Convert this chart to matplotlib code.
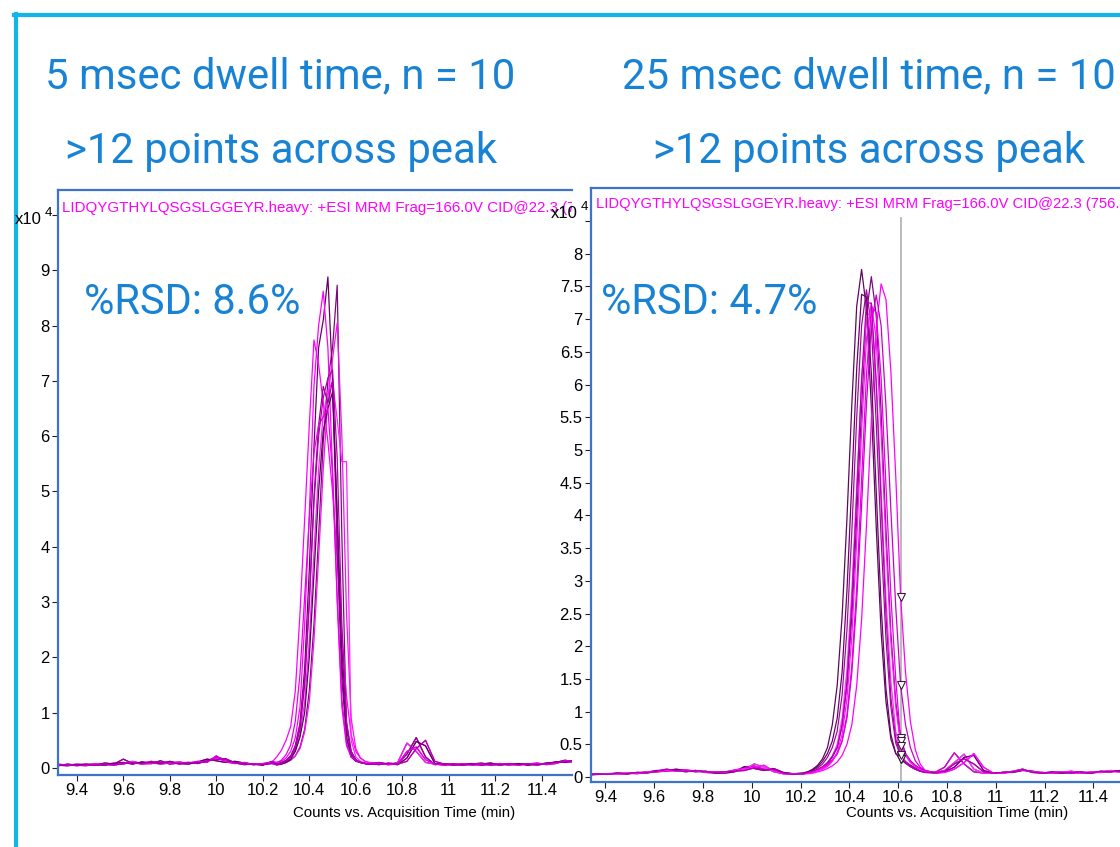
import matplotlib
matplotlib.use('Agg')
import matplotlib.pyplot as plt
from matplotlib.lines import Line2D

# ---- data: left panel (5 msec dwell), intensities in units of 1e4 counts ----
left_pre_t = [9.32, 9.36, 9.40, 9.44, 9.48, 9.52, 9.56, 9.60, 9.64, 9.68, 9.72, 9.76,
              9.80, 9.84, 9.88, 9.92, 9.96, 10.00, 10.04, 10.08, 10.12, 10.16, 10.20, 10.24]
left_peak_t = [10.26, 10.28, 10.30, 10.32, 10.34, 10.36, 10.38, 10.40, 10.42, 10.44, 10.46,
               10.48, 10.50, 10.52, 10.54, 10.56, 10.58, 10.60, 10.62, 10.64, 10.66]
left_post_t = [10.70, 10.74, 10.78, 10.82, 10.86, 10.90, 10.94, 10.98, 11.02, 11.06, 11.10,
               11.14, 11.18, 11.22, 11.26, 11.30, 11.34, 11.38, 11.42, 11.46, 11.50, 11.54]

left_base_pre = [
    [0.06, 0.05, 0.07, 0.05, 0.08, 0.06, 0.09, 0.07, 0.12, 0.08, 0.1, 0.07, 0.09, 0.11, 0.08, 0.1, 0.14, 0.18, 0.12, 0.09, 0.07, 0.08, 0.06, 0.09],
    [0.04, 0.07, 0.05, 0.06, 0.05, 0.09, 0.07, 0.16, 0.08, 0.1, 0.08, 0.13, 0.07, 0.09, 0.1, 0.09, 0.12, 0.2, 0.15, 0.1, 0.08, 0.06, 0.07, 0.1],
    [0.05, 0.04, 0.06, 0.07, 0.06, 0.05, 0.08, 0.1, 0.07, 0.11, 0.09, 0.08, 0.12, 0.08, 0.07, 0.11, 0.16, 0.13, 0.1, 0.12, 0.09, 0.07, 0.05, 0.12],
    [0.07, 0.05, 0.05, 0.04, 0.07, 0.06, 0.06, 0.09, 0.1, 0.07, 0.08, 0.1, 0.08, 0.1, 0.09, 0.12, 0.1, 0.22, 0.11, 0.08, 0.1, 0.06, 0.08, 0.11],
    [0.05, 0.06, 0.04, 0.06, 0.05, 0.07, 0.05, 0.08, 0.09, 0.08, 0.12, 0.09, 0.11, 0.07, 0.1, 0.08, 0.13, 0.15, 0.17, 0.09, 0.06, 0.07, 0.06, 0.08],
]
left_base_post = [
    [0.08, 0.06, 0.1, 0.45, 0.3, 0.1, 0.07, 0.06, 0.08, 0.05, 0.07, 0.09, 0.06, 0.08, 0.05, 0.07, 0.06, 0.08, 0.07, 0.09, 0.12, 0.1],
    [0.1, 0.07, 0.08, 0.25, 0.55, 0.2, 0.06, 0.08, 0.05, 0.07, 0.06, 0.07, 0.09, 0.05, 0.07, 0.06, 0.08, 0.06, 0.09, 0.1, 0.14, 0.11],
    [0.07, 0.08, 0.06, 0.18, 0.48, 0.4, 0.08, 0.06, 0.07, 0.06, 0.08, 0.05, 0.07, 0.07, 0.06, 0.08, 0.05, 0.07, 0.08, 0.11, 0.1, 0.13],
    [0.09, 0.06, 0.07, 0.3, 0.38, 0.15, 0.07, 0.05, 0.06, 0.08, 0.05, 0.06, 0.06, 0.08, 0.07, 0.05, 0.07, 0.09, 0.06, 0.08, 0.13, 0.12],
    [0.06, 0.09, 0.07, 0.12, 0.35, 0.5, 0.12, 0.07, 0.06, 0.05, 0.07, 0.08, 0.05, 0.06, 0.08, 0.06, 0.07, 0.05, 0.08, 0.1, 0.11, 0.14],
]
left_peaks = [
    [0.08, 0.1, 0.14, 0.22, 0.4, 0.8, 1.8, 3.6, 5.8, 7.6, 8.1, 8.88, 7.0, 4.5, 2.2, 0.8, 0.3, 0.15, 0.1, 0.08, 0.07],
    [0.06, 0.08, 0.1, 0.14, 0.22, 0.38, 0.7, 1.4, 2.6, 4.2, 5.9, 7.0, 7.6, 8.73, 4.2, 0.7, 0.25, 0.14, 0.1, 0.08, 0.07],
    [0.1, 0.12, 0.18, 0.3, 0.55, 1.1, 2.6, 4.6, 6.9, 8.0, 8.62, 7.6, 5.4, 3.0, 1.1, 0.4, 0.2, 0.14, 0.1, 0.09, 0.08],
    [0.2, 0.32, 0.5, 0.75, 1.4, 2.8, 4.5, 6.2, 7.74, 7.3, 6.6, 5.9, 5.0, 3.8, 2.4, 1.3, 0.6, 0.3, 0.18, 0.12, 0.1],
    [0.05, 0.07, 0.1, 0.15, 0.22, 0.35, 0.65, 1.2, 2.3, 3.8, 5.4, 6.7, 7.4, 8.05, 6.0, 2.8, 0.9, 0.35, 0.18, 0.12, 0.09],
    [0.06, 0.08, 0.12, 0.2, 0.32, 0.6, 1.2, 2.3, 3.9, 5.4, 6.4, 6.8, 7.0, 6.3, 5.54, 5.54, 0.5, 0.2, 0.12, 0.09, 0.08],
    [0.07, 0.09, 0.13, 0.2, 0.36, 0.7, 1.5, 3.0, 4.9, 6.2, 6.9, 6.6, 7.0, 3.9, 1.6, 0.55, 0.22, 0.13, 0.1, 0.08, 0.07],
    [0.06, 0.07, 0.1, 0.16, 0.3, 0.56, 1.0, 2.0, 3.5, 5.0, 6.1, 6.5, 6.8, 4.6, 1.9, 0.55, 0.2, 0.12, 0.1, 0.08, 0.07],
    [0.1, 0.14, 0.24, 0.42, 0.85, 1.7, 3.1, 4.5, 5.7, 6.2, 6.35, 6.5, 5.3, 3.1, 1.25, 0.45, 0.2, 0.13, 0.1, 0.08, 0.08],
    [0.06, 0.08, 0.12, 0.2, 0.4, 0.8, 1.6, 3.0, 4.8, 6.0, 6.7, 7.05, 7.2, 5.6, 2.6, 0.85, 0.3, 0.15, 0.1, 0.08, 0.07],
]
left_colors = ['#660066', '#7b0a7b', '#ff00ff', '#ff00ff', '#f014f0',
               '#ff22ff', '#990099', '#5a005a', '#e600e6', '#b000b0']

# ---- data: right panel (25 msec dwell) ----
right_pre_t = [9.33, 9.37, 9.41, 9.45, 9.49, 9.53, 9.57, 9.61, 9.65, 9.69, 9.73, 9.77,
               9.81, 9.85, 9.89, 9.93, 9.97, 10.01, 10.05, 10.09, 10.13, 10.17]
right_peak_t = [10.21, 10.23, 10.25, 10.27, 10.29, 10.31, 10.33, 10.35, 10.37, 10.39, 10.41,
                10.43, 10.45, 10.47, 10.49, 10.51, 10.53, 10.55, 10.57, 10.59, 10.61, 10.63,
                10.65, 10.67, 10.69, 10.71]
right_post_t = [10.75, 10.79, 10.83, 10.87, 10.91, 10.95, 10.99, 11.03, 11.07, 11.11, 11.15,
                11.19, 11.23, 11.27, 11.31, 11.35, 11.39, 11.43, 11.47, 11.51, 11.55]

right_base_pre = [
    [0.04, 0.05, 0.04, 0.05, 0.05, 0.06, 0.07, 0.08, 0.09, 0.11, 0.1, 0.09, 0.08, 0.07, 0.07, 0.09, 0.14, 0.17, 0.12, 0.1, 0.06, 0.05],
    [0.03, 0.04, 0.05, 0.04, 0.06, 0.06, 0.08, 0.09, 0.11, 0.1, 0.09, 0.1, 0.07, 0.06, 0.08, 0.1, 0.12, 0.2, 0.15, 0.08, 0.05, 0.04],
    [0.05, 0.04, 0.05, 0.06, 0.05, 0.07, 0.07, 0.1, 0.1, 0.12, 0.1, 0.08, 0.09, 0.06, 0.06, 0.08, 0.16, 0.13, 0.1, 0.13, 0.07, 0.05],
    [0.04, 0.05, 0.05, 0.05, 0.06, 0.05, 0.08, 0.08, 0.1, 0.09, 0.11, 0.09, 0.08, 0.08, 0.07, 0.11, 0.13, 0.15, 0.18, 0.09, 0.05, 0.05],
    [0.03, 0.05, 0.04, 0.06, 0.05, 0.07, 0.06, 0.09, 0.12, 0.1, 0.08, 0.1, 0.08, 0.07, 0.08, 0.09, 0.1, 0.14, 0.11, 0.12, 0.06, 0.04],
]
right_base_post = [
    [0.07, 0.15, 0.37, 0.2, 0.08, 0.06, 0.06, 0.07, 0.08, 0.11, 0.08, 0.06, 0.07, 0.06, 0.07, 0.06, 0.07, 0.08, 0.09, 0.08, 0.08],
    [0.07, 0.1, 0.22, 0.35, 0.12, 0.06, 0.06, 0.06, 0.09, 0.12, 0.07, 0.07, 0.06, 0.08, 0.06, 0.06, 0.08, 0.07, 0.1, 0.09, 0.08],
    [0.06, 0.08, 0.15, 0.3, 0.33, 0.1, 0.06, 0.07, 0.07, 0.1, 0.09, 0.06, 0.07, 0.06, 0.08, 0.07, 0.06, 0.08, 0.08, 0.1, 0.09],
    [0.06, 0.07, 0.12, 0.22, 0.36, 0.15, 0.06, 0.06, 0.08, 0.11, 0.08, 0.07, 0.06, 0.07, 0.09, 0.06, 0.07, 0.07, 0.09, 0.08, 0.09],
    [0.07, 0.09, 0.2, 0.28, 0.2, 0.08, 0.06, 0.07, 0.08, 0.12, 0.07, 0.06, 0.08, 0.07, 0.06, 0.08, 0.06, 0.09, 0.08, 0.09, 0.08],
]
right_peaks = [
    [0.06, 0.08, 0.12, 0.18, 0.28, 0.45, 0.8, 1.4, 2.45, 3.95, 5.7, 7.2, 7.76, 7.16, 5.65, 3.82, 2.22, 1.15, 0.58, 0.36, 0.28, 0.22, 0.18, 0.14, 0.1, 0.08],
    [0.05, 0.06, 0.08, 0.11, 0.15, 0.2, 0.3, 0.45, 0.8, 1.4, 2.45, 3.95, 5.65, 7.1, 7.65, 7.06, 5.57, 3.77, 2.2, 1.15, 0.6, 0.36, 0.25, 0.18, 0.13, 0.1],
    [0.05, 0.05, 0.06, 0.08, 0.1, 0.13, 0.17, 0.23, 0.33, 0.5, 0.8, 1.4, 2.4, 3.85, 5.45, 6.85, 7.54, 7.3, 6.2, 4.6, 2.75, 1.6, 0.85, 0.42, 0.2, 0.1],
    [0.05, 0.06, 0.08, 0.1, 0.14, 0.19, 0.26, 0.36, 0.55, 0.9, 1.6, 2.7, 4.15, 5.7, 6.92, 7.37, 6.9, 5.66, 4.08, 2.6, 1.4, 0.8, 0.45, 0.25, 0.15, 0.1],
    [0.05, 0.07, 0.1, 0.14, 0.2, 0.3, 0.45, 0.7, 1.25, 2.25, 3.75, 5.5, 6.9, 7.45, 6.88, 5.41, 3.65, 2.1, 1.07, 0.52, 0.32, 0.24, 0.18, 0.14, 0.1, 0.08],
    [0.05, 0.06, 0.08, 0.1, 0.13, 0.18, 0.25, 0.35, 0.55, 0.95, 1.7, 2.9, 4.55, 6.15, 7.2, 7.1, 6.1, 4.45, 2.78, 1.5, 0.55, 0.36, 0.24, 0.17, 0.12, 0.09],
    [0.05, 0.06, 0.08, 0.11, 0.15, 0.22, 0.32, 0.5, 0.9, 1.65, 2.85, 4.45, 6.05, 7.06, 7.1, 6.01, 4.38, 2.72, 1.47, 0.7, 0.34, 0.22, 0.16, 0.12, 0.09, 0.07],
    [0.06, 0.08, 0.11, 0.16, 0.24, 0.36, 0.55, 0.9, 1.6, 2.85, 4.5, 6.25, 7.38, 7.34, 6.17, 4.37, 2.62, 1.35, 0.65, 0.36, 0.27, 0.21, 0.16, 0.12, 0.09, 0.07],
    [0.05, 0.06, 0.07, 0.09, 0.12, 0.16, 0.24, 0.38, 0.65, 1.2, 2.15, 3.62, 5.3, 6.7, 7.25, 6.69, 5.27, 3.56, 2.08, 1.08, 0.48, 0.33, 0.22, 0.16, 0.11, 0.08],
    [0.05, 0.07, 0.09, 0.12, 0.16, 0.22, 0.32, 0.45, 0.78, 1.45, 2.65, 4.3, 6.08, 7.26, 7.24, 6.04, 4.2, 2.46, 1.22, 0.58, 0.33, 0.22, 0.16, 0.12, 0.09, 0.07],
]
right_colors = ['#5c0a5c', '#7b0a7b', '#ff00ff', '#cc00cc', '#9a109a',
                '#e600e6', '#ff33ff', '#700070', '#ff10ff', '#b400b4']
peak_end = 10.61   # integration end marker

left_yticks = [0, 1, 2, 3, 4, 5, 6, 7, 8, 9, 10]
right_yticks = [0, 0.5, 1, 1.5, 2, 2.5, 3, 3.5, 4, 4.5, 5, 5.5, 6, 6.5, 7, 7.5, 8, 8.5]
xticks = [9.4, 9.6, 9.8, 10.0, 10.2, 10.4, 10.6, 10.8, 11.0, 11.2, 11.4]

header = 'LIDQYGTHYLQSGSLGGEYR.heavy: +ESI MRM Frag=166.0V CID@22.3 (756.4 -> 1003.5)'

narrow = ['Liberation Sans Narrow', 'Liberation Sans', 'DejaVu Sans']
blue_txt = '#1882d4'
frame_blue = '#3d74c8'

W, H = 1120, 847
fig = plt.figure(figsize=(W / 100, H / 100), dpi=100)
fig.patch.set_facecolor('white')


def fx(px):
    return px / W


def fy(py):
    return 1 - py / H


def style_axes(ax, yticks, last_unlabeled):
    for side in ['left', 'top', 'bottom']:
        ax.spines[side].set_color(frame_blue)
        ax.spines[side].set_linewidth(1.6)
    ax.spines['right'].set_visible(False)
    ax.set_xticks(xticks)
    ax.set_xticklabels(['%g' % t for t in xticks])
    ax.set_yticks(yticks)
    labels = ['%g' % v for v in yticks]
    if last_unlabeled:
        labels[-1] = ''
    ax.set_yticklabels(labels)
    ax.tick_params(direction='out', length=4, width=0.8, color='#222222',
                   labelsize=12, pad=2)
    for lab in ax.get_xticklabels() + ax.get_yticklabels():
        lab.set_family(narrow)


# left panel
ax1 = fig.add_axes([fx(58), fy(775), fx(572 - 58), (775 - 190) / H])
ax1.set_xlim(9.319, 11.53)
ax1.set_ylim(-0.127, 10.452)
left_t = left_pre_t + left_peak_t + left_post_t
for i, pk in enumerate(left_peaks):
    y = left_base_pre[i % 5] + pk + left_base_post[i % 5]
    ax1.plot(left_t, y, color=left_colors[i], lw=0.9)
style_axes(ax1, left_yticks, True)
ax1.text(0.008, 0.969, header, transform=ax1.transAxes, color='#ff00ff',
         fontsize=10.9, family=narrow, va='center', ha='left', clip_on=True)

# right panel
ax2 = fig.add_axes([fx(591), fy(782), fx(1150 - 591), (782 - 188) / H])
ax2.set_xlim(9.341, 11.632)
ax2.set_ylim(-0.076, 9.006)
ax2.axvline(peak_end, ymin=0, ymax=0.95, color='#b4b4b4', lw=1.3, zorder=1)
right_t = right_pre_t + right_peak_t + right_post_t
end_idx = right_t.index(peak_end)
for i, pk in enumerate(right_peaks):
    y = right_base_pre[i % 5] + pk + right_base_post[i % 5]
    ax2.plot(right_t, y, color=right_colors[i], lw=0.9, zorder=2)
    ax2.plot(right_t[end_idx], y[end_idx], marker='v', ms=6, mfc='white',
             mec='#3a1a3a', mew=0.8, zorder=3)
style_axes(ax2, right_yticks, True)
ax2.text(0.009, 0.973, header, transform=ax2.transAxes, color='#ff00ff',
         fontsize=10.6, family=narrow, va='center', ha='left', clip_on=True)

# x10^4 exponents and axis titles
for xr, yc in [(42, 219), (578, 213)]:
    fig.text(fx(xr), fy(yc), 'x10', ha='right', va='center', fontsize=12, family=narrow)
    fig.text(fx(xr + 3), fy(yc - 6), '4', ha='left', va='center', fontsize=9.5, family=narrow)
fig.text(fx(404), fy(813), 'Counts vs. Acquisition Time (min)', ha='center', va='center',
         fontsize=10.8, family=narrow)
fig.text(fx(957), fy(813), 'Counts vs. Acquisition Time (min)', ha='center', va='center',
         fontsize=10.8, family=narrow)

# slide titles
title_font = dict(family=['Roboto', 'DejaVu Sans'], fontweight='normal', color=blue_txt,
                  va='center', ha='left', fontsize=30.2)
fig.text(fx(45), fy(77), '5 msec dwell time, n = 10', **title_font)
fig.text(fx(65), fy(152), '>12 points across peak', **title_font)
fig.text(fx(622), fy(77), '25 msec dwell time, n = 10', **title_font)
fig.text(fx(653), fy(152), '>12 points across peak', **title_font)
rsd_font = dict(title_font, fontsize=30)
fig.text(fx(84), fy(303), '%RSD: 8.6%', **rsd_font)
fig.text(fx(601), fy(303), '%RSD: 4.7%', **rsd_font)

# cyan slide frame
frame = '#12b6e6'
fig.add_artist(Line2D([fx(14), 1.0], [fy(15.5), fy(15.5)], color=frame, lw=3))
fig.add_artist(Line2D([fx(16), fx(16)], [fy(14), 0.0], color=frame, lw=3))

fig.savefig('out.png', dpi=100, facecolor='white')
